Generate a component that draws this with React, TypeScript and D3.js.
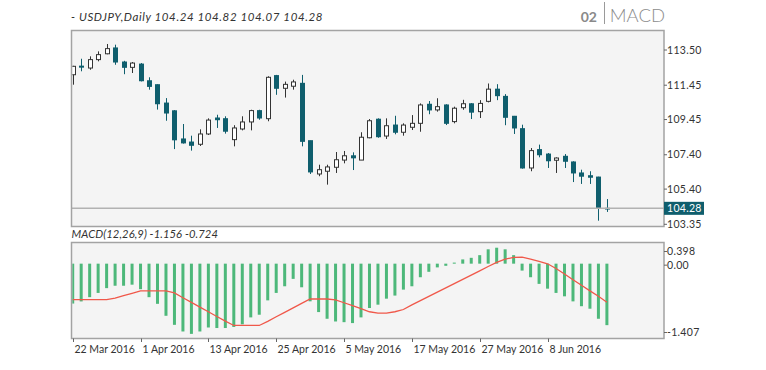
import React from "react";
import * as d3 from "d3";

const dates = [
  "2016-03-22","2016-03-23","2016-03-24","2016-03-25","2016-03-28","2016-03-29","2016-03-30","2016-03-31",
  "2016-04-01","2016-04-04","2016-04-05","2016-04-06","2016-04-07","2016-04-08","2016-04-11","2016-04-12",
  "2016-04-13","2016-04-14","2016-04-15","2016-04-18","2016-04-19","2016-04-20","2016-04-21","2016-04-22",
  "2016-04-25","2016-04-26","2016-04-27","2016-04-28","2016-04-29","2016-05-02","2016-05-03","2016-05-04",
  "2016-05-05","2016-05-06","2016-05-09","2016-05-10","2016-05-11","2016-05-12","2016-05-13","2016-05-16",
  "2016-05-17","2016-05-18","2016-05-19","2016-05-20","2016-05-23","2016-05-24","2016-05-25","2016-05-26",
  "2016-05-27","2016-05-30","2016-05-31","2016-06-01","2016-06-02","2016-06-03","2016-06-06","2016-06-07",
  "2016-06-08","2016-06-09","2016-06-10","2016-06-13","2016-06-14","2016-06-15","2016-06-16","2016-06-17",
];

const opens = [
  112.06,112.56,112.45,112.94,113.28,113.62,112.80,112.49,
  112.68,111.71,111.48,110.41,109.96,108.32,108.14,108.01,
  108.61,109.54,109.50,108.28,108.90,109.31,109.97,109.50,
  112.01,111.27,111.39,111.56,108.22,106.28,106.44,106.67,
  107.09,107.34,107.09,108.39,109.47,108.49,109.13,108.71,
  109.00,109.23,110.34,110.01,110.30,109.33,110.14,110.37,
  109.91,110.51,111.22,110.80,109.64,108.92,106.63,107.70,
  107.44,107.08,107.31,106.98,106.34,106.18,106.10,104.24,
];
const highs = [
  112.58,112.99,113.13,113.42,113.85,113.81,112.87,112.80,
  112.74,111.91,111.50,110.70,110.00,109.19,108.51,108.88,
  109.52,109.73,109.64,109.12,109.64,110.02,110.02,111.97,
  112.05,111.66,111.77,112.05,108.22,106.82,106.82,107.56,
  107.62,107.54,108.71,109.48,109.52,109.52,109.67,109.23,
  109.71,110.39,110.53,110.69,110.34,110.20,110.60,110.41,
  110.58,111.55,111.51,110.93,109.66,109.15,107.79,107.99,
  107.50,107.25,107.44,107.02,106.53,106.44,106.12,104.82,
];
const lows = [
  111.48,112.26,112.35,112.84,113.25,112.64,112.09,112.16,
  111.67,111.19,110.03,109.38,107.73,108.05,107.64,107.91,
  108.55,108.96,108.63,107.89,108.82,108.82,109.44,109.35,
  110.89,110.73,111.19,107.89,106.28,106.15,105.66,106.34,
  106.90,106.51,107.09,108.36,108.39,108.32,108.59,108.51,
  108.84,108.74,109.76,109.91,109.13,109.23,110.02,109.48,
  109.54,110.45,110.58,109.12,108.61,106.59,106.44,107.25,
  106.63,106.34,106.63,105.81,105.70,105.70,103.56,104.07,
];
const closes = [
  112.55,112.50,112.94,113.23,113.58,112.80,112.49,112.74,
  111.71,111.38,110.37,109.83,108.27,108.09,107.95,108.61,
  109.42,109.44,108.77,108.96,109.31,109.97,109.54,111.91,
  111.27,111.50,111.64,108.18,106.40,106.53,106.69,107.11,
  107.34,107.22,108.42,109.38,108.45,109.09,108.71,109.13,
  109.23,110.30,110.01,110.20,109.23,110.11,110.37,109.88,
  110.39,111.22,110.84,109.58,108.96,106.63,107.64,107.40,
  107.05,107.21,107.02,106.34,106.15,106.09,104.30,104.28,
];

const macdMain = [
  -0.75,-0.71,-0.63,-0.55,-0.46,-0.415,-0.415,-0.395,
  -0.48,-0.63,-0.755,-0.98,-1.15,-1.275,-1.32,-1.275,
  -1.20,-1.21,-1.21,-1.19,-1.14,-1.01,-0.96,-0.69,
  -0.55,-0.425,-0.286,-0.444,-0.708,-0.91,-1.036,-1.087,
  -1.10,-1.117,-1.01,-0.834,-0.771,-0.658,-0.60,-0.488,
  -0.425,-0.255,-0.153,-0.07,-0.04,0.02,0.08,0.11,
  0.16,0.27,0.30,0.27,0.16,-0.13,-0.255,-0.38,
  -0.47,-0.55,-0.614,-0.709,-0.80,-0.847,-1.036,-1.156,
];
const macdSignal = [
  -0.677,-0.677,-0.677,-0.677,-0.677,-0.65,-0.603,-0.558,
  -0.513,-0.513,-0.513,-0.513,-0.551,-0.641,-0.727,-0.817,
  -0.904,-0.993,-1.079,-1.162,-1.162,-1.162,-1.162,-1.086,
  -0.999,-0.916,-0.83,-0.747,-0.664,-0.664,-0.664,-0.679,
  -0.735,-0.79,-0.847,-0.904,-0.929,-0.929,-0.904,-0.862,
  -0.775,-0.696,-0.614,-0.535,-0.456,-0.374,-0.296,-0.214,
  -0.135,-0.053,0.023,0.086,0.117,0.123,0.086,0.042,
  -0.002,-0.09,-0.195,-0.302,-0.405,-0.511,-0.614,-0.724,
];

const priceTicks = [113.5, 111.45, 109.45, 107.4, 105.4, 103.35];
const macdTicks = [0.398, 0, -1.407];
const dateTicks = ["2016-03-22","2016-04-01","2016-04-13","2016-04-25","2016-05-05","2016-05-17","2016-05-27","2016-06-08"];
const lastPrice = 104.28;
const titleText = "- USDJPY,Daily 104.24 104.82 104.07 104.28";
const macdText = "MACD(12,26,9) -1.156 -0.724";
const panelNum = "02";
const panelName = "MACD";

const FONT = "Lato, 'Open Sans', sans-serif";
const TEAL = "#0f5e6d";
const GREEN = "#4db87a";
const RED = "#f0584a";
const BORDER = "#a3a3a3";

export default function App() {
  const W = 766, H = 370;
  const L = 71.5, R = 664;
  const pTop = 30.5, pBot = 226.5;
  const mTop = 242.5, mBot = 338.5;

  const x = d3.scalePoint<string>().domain(dates).range([72.7, 606.9]);
  const y = d3.scaleLinear().domain([103.35, 113.5]).range([224.3, 50]);
  const ym = d3.scaleLinear().domain([-1.407, 0.398]).range([mBot, mTop]);
  const parse = d3.timeParse("%Y-%m-%d");
  const fmt = d3.timeFormat("%-d %b %Y");
  const fmtP = d3.format(".2f");

  const sigLine = d3
    .line<number>()
    .x((_, i) => x(dates[i]) as number)
    .y((d) => ym(d));

  const crisp = (v: number) => Math.round(v) + 0.5;

  return (
    <svg width={W} height={H} style={{ position: "absolute", left: 0, top: 0, background: "#fff" }} fontFamily={FONT}>
      <defs>
        <clipPath id="pclip">
          <rect x={L + 0.75} y={pTop} width={R - L - 0.75} height={pBot - pTop} />
        </clipPath>
        <clipPath id="mclip">
          <rect x={L + 0.75} y={mTop} width={R - L - 0.75} height={mBot - mTop} />
        </clipPath>
      </defs>

      {/* header */}
      <text x={71} y={21} fontSize={11.5} fontStyle="italic" fill="#333" letterSpacing={0.6}>{titleText}</text>
      <text x={597} y={21.7} fontSize={14} fontWeight={700} fill="#8a8a8a" textAnchor="end">{panelNum}</text>
      <line x1={604.5} x2={604.5} y1={2} y2={24} stroke="#9a9a9a" strokeWidth={1} />
      <text x={665} y={21.7} fontSize={18.5} fontWeight={300} fill="#8c8c8c" textAnchor="end">{panelName}</text>

      {/* price panel */}
      <rect x={L} y={pTop} width={R - L} height={pBot - pTop} fill="#f4f4f4" />
      <g clipPath="url(#pclip)">
        {dates.map((d, i) => {
          const cx = crisp(x(d) as number);
          const o = opens[i], c = closes[i];
          const bull = c - o > 0.05;
          const top = y(Math.max(o, c));
          const bot = y(Math.min(o, c));
          const col = bull ? "#333" : TEAL;
          return (
            <g key={d}>
              <line x1={cx} x2={cx} y1={y(highs[i])} y2={y(lows[i])} stroke={col} strokeWidth={1} />
              {bull ? (
                <rect x={cx - 2} y={top} width={4} height={Math.max(bot - top, 1)} fill="#fff" stroke="#333" strokeWidth={1} />
              ) : (
                <rect x={cx - 2.5} y={top - 0.5} width={5} height={Math.max(bot - top + 1, 1.5)} fill={TEAL} />
              )}
            </g>
          );
        })}
      </g>
      <line x1={L} x2={R} y1={y(lastPrice)} y2={y(lastPrice)} stroke="#b2b2b2" strokeWidth={1.5} />
      <rect x={L} y={pTop} width={R - L} height={pBot - pTop} fill="none" stroke={BORDER} strokeWidth={1.5} />
      {priceTicks.map((t) => (
        <g key={t}>
          <line x1={R} x2={R + 3} y1={y(t)} y2={y(t)} stroke="#666" strokeWidth={1} />
          <text x={R + 3} y={y(t) + 3.6} fontSize={10.5} fill="#333" letterSpacing={0.3}>{fmtP(t)}</text>
        </g>
      ))}
      <rect x={R} y={y(lastPrice) - 6.5} width={40} height={13} fill={TEAL} />
      <text x={R + 3} y={y(lastPrice) + 3.8} fontSize={10.5} fill="#fff" letterSpacing={0.3}>{fmtP(lastPrice)}</text>

      {/* MACD panel */}
      <text x={71.5} y={238} fontSize={11.2} fontStyle="italic" fill="#333" letterSpacing={0.1}>{macdText}</text>
      <rect x={L} y={mTop} width={R - L} height={mBot - mTop} fill="#f4f4f4" />
      <g clipPath="url(#mclip)">
        {dates.map((d, i) => {
          const cx = x(d) as number;
          const v = macdMain[i];
          const y0 = ym(0), y1 = ym(v);
          return (
            <rect key={d} x={cx - 1.5} y={Math.min(y0, y1)} width={3} height={Math.max(Math.abs(y1 - y0), 1)} fill={GREEN} />
          );
        })}
        <path d={sigLine(macdSignal) || ""} fill="none" stroke={RED} strokeWidth={1.3} />
      </g>
      <rect x={L} y={mTop} width={R - L} height={mBot - mTop} fill="none" stroke={BORDER} strokeWidth={1.5} />
      {macdTicks.map((t) => {
        const ty = Math.min(Math.max(ym(t), mTop + 9), mBot - 6) + (t === 0 ? 1.5 : 0);
        return (
          <g key={t}>
            <line x1={R} x2={R + 3} y1={ty} y2={ty} stroke="#666" strokeWidth={1} />
            <text x={R + 3} y={ty + 3.6} fontSize={10.5} fill="#333" letterSpacing={0.3}>
              {t === 0 ? "0.00" : String(t)}
            </text>
          </g>
        );
      })}

      {/* x axis */}
      {dateTicks.map((d) => {
        const tx = crisp(x(d) as number);
        return (
          <g key={d}>
            <line x1={tx} x2={tx} y1={mBot} y2={mBot + 3.5} stroke="#666" strokeWidth={1} />
            <text x={tx + 1} y={353} fontSize={10.5} fill="#333">{fmt(parse(d) as Date)}</text>
          </g>
        );
      })}
    </svg>
  );
}
